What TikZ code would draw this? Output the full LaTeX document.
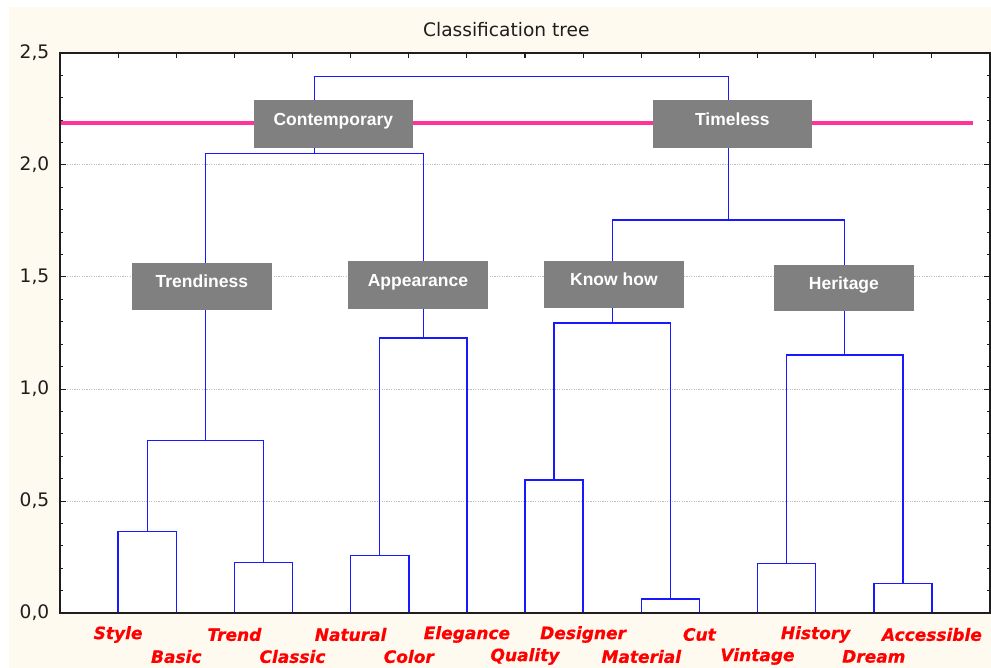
\documentclass[tikz,border=0pt]{standalone}
\usepackage{fontspec}
\setmainfont{DejaVu Sans}
\newfontfamily\labelfont{DejaVu Sans}
\newfontfamily\leaffont{DejaVu Sans}[BoldItalicFeatures={FakeBold=0.6}]
\newfontfamily\boxfont{Liberation Sans}
\usetikzlibrary{calc}

\definecolor{panelbg}{RGB}{255,250,240}
\definecolor{treeblue}{RGB}{25,25,255}
\definecolor{cutpink}{RGB}{255,51,153}
\definecolor{boxgray}{RGB}{128,128,128}
\definecolor{leafred}{RGB}{255,0,0}
\definecolor{gridgray}{RGB}{190,190,190}
\definecolor{axisink}{RGB}{30,30,30}

\tikzset{
  link/.style={draw=treeblue, line width=1.4pt, line cap=rect},
  cluster/.style={fill=boxgray, text=white, inner sep=0pt,
    font=\boxfont\bfseries\fontsize{17.5}{17.5}\selectfont,
    text height=12.6pt, text depth=10pt, minimum height=47.7pt},
  widebox/.style={cluster, minimum width=158.7pt},
  narrowbox/.style={cluster, minimum width=139.7pt},
  leaflabel/.style={text=leafred, inner sep=0pt,
    font=\leaffont\bfseries\itshape\fontsize{17}{17}\selectfont},
  ticklabel/.style={text=axisink, inner sep=0pt, anchor=east,
    font=\labelfont\fontsize{18.6}{18.6}\selectfont},
  gridline/.style={draw=gridgray, line width=1pt, dash pattern=on 1.2pt off 1.2pt},
}

\begin{document}
\begin{tikzpicture}[x=1pt, y=-1pt]
  \useasboundingbox (0,0) rectangle (991,668);

  % panel and plotting area
  \fill[panelbg] (9,7) rectangle (991,668);
  \fill[white] (60,53) rectangle (990,613);

  % horizontal grid
  \foreach \gy in {165,277,389,501}
    \draw[gridline] (60,\gy) -- (990,\gy);

  % cut level
  \draw[cutpink, line width=4.3pt] (60,123) -- (973,123);

  % leaves on the bottom axis
  \coordinate (style)    at (118.1,613);
  \coordinate (basic)    at (176.3,613);
  \coordinate (trend)    at (234.4,613);
  \coordinate (classic)  at (292.5,613);
  \coordinate (natural)  at (350.6,613);
  \coordinate (color)    at (408.8,613);
  \coordinate (elegance) at (466.9,613);
  \coordinate (quality)  at (525.0,613);
  \coordinate (designer) at (583.1,613);
  \coordinate (material) at (641.3,613);
  \coordinate (cut)      at (699.4,613);
  \coordinate (vintage)  at (757.5,613);
  \coordinate (history)  at (815.6,613);
  \coordinate (dream)    at (873.8,613);
  \coordinate (access)   at (931.9,613);

  % merge points
  \coordinate (mSB)   at (147.2,531.7);
  \coordinate (mTC)   at (263.4,562.7);
  \coordinate (mTrd)  at (205.3,440.7);
  \coordinate (mNC)   at (379.7,555.7);
  \coordinate (mApp)  at (423.3,338.0);
  \coordinate (mCon)  at (314.3,153.5);
  \coordinate (mQD)   at (554.1,480.0);
  \coordinate (mMC)   at (670.3,599.0);
  \coordinate (mKnow) at (612.2,323.0);
  \coordinate (mVH)   at (786.6,563.7);
  \coordinate (mDA)   at (902.8,583.7);
  \coordinate (mHer)  at (844.7,355.0);
  \coordinate (mTim)  at (728.4,220.0);
  \coordinate (mRoot) at (521.4,76.7);

  % dendrogram
  \draw[link] (style) |- (mSB) -| (basic);
  \draw[link] (trend) |- (mTC) -| (classic);
  \draw[link] (mSB) |- (mTrd) -| (mTC);
  \draw[link] (natural) |- (mNC) -| (color);
  \draw[link] (mNC) |- (mApp) -| (elegance);
  \draw[link] (mTrd) |- (mCon) -| (mApp);
  \draw[link] (quality) |- (mQD) -| (designer);
  \draw[link] (material) |- (mMC) -| (cut);
  \draw[link] (mQD) |- (mKnow) -| (mMC);
  \draw[link] (vintage) |- (mVH) -| (history);
  \draw[link] (dream) |- (mDA) -| (access);
  \draw[link] (mVH) |- (mHer) -| (mDA);
  \draw[link] (mKnow) |- (mTim) -| (mHer);
  \draw[link] (mCon) |- (mRoot) -| (mTim);

  % cluster names
  \node[widebox]   (contemporary) at (333.4,124.0) {Contemporary};
  \node[widebox]   (timeless)     at (732.4,124.0) {Timeless};
  \node[narrowbox] (trendiness)   at (201.9,286.5) {Trendiness};
  \node[narrowbox] (appearance)   at (417.9,284.9) {Appearance};
  \node[narrowbox] (knowhow)      at (613.9,284.4) {Know how};
  \node[narrowbox, minimum height=45.7pt] (heritage) at (843.9,287.9) {Heritage};

  % frame
  \draw[axisink, line width=1.6pt] (60,53) rectangle (990,613);

  % ticks on the left and right axes
  \foreach \k in {1,...,24} {
    \pgfmathsetmacro{\ty}{613-22.4*\k}
    \pgfmathsetmacro{\tl}{mod(\k,5)==0 ? 6 : 3}
    \draw[axisink, line width=1pt] (60,\ty) -- ++(\tl,0);
    \draw[axisink, line width=1pt] (990,\ty) -- ++(-\tl,0);
  }
  % ticks on the top axis
  \foreach \k in {1,...,15}
    \draw[axisink, line width=1.2pt] ({60+58.125*\k},53) -- ++(0,5);

  % axis values
  \node[ticklabel] (v00) at (49.5,613) {0,0};
  \node[ticklabel] (v05) at (49.5,501) {0,5};
  \node[ticklabel] (v10) at (49.5,389) {1,0};
  \node[ticklabel] (v15) at (49.5,277) {1,5};
  \node[ticklabel] (v20) at (49.5,165) {2,0};
  \node[ticklabel] (v25) at (49.5,53)  {2,5};

  % title
  \node[text=axisink, inner sep=0pt, font=\fontsize{18.6}{18.6}\selectfont]
    (title) at (506.3,30) {Classification tree};

  % leaf names
  \node[leaflabel] (lStyle)    at (118.1,634.5) {Style};
  \node[leaflabel] (lBasic)    at (176.3,656.5) {Basic};
  \node[leaflabel] (lTrend)    at (234.4,634.5) {Trend};
  \node[leaflabel] (lClassic)  at (292.5,656.5) {Classic};
  \node[leaflabel] (lNatural)  at (350.6,634.5) {Natural};
  \node[leaflabel] (lColor)    at (408.8,656.5) {Color};
  \node[leaflabel] (lElegance) at (466.9,634.5) {Elegance};
  \node[leaflabel] (lQuality)  at (525.0,656.5) {Quality};
  \node[leaflabel] (lDesigner) at (583.1,634.5) {Designer};
  \node[leaflabel] (lMaterial) at (641.3,656.5) {Material};
  \node[leaflabel] (lCut)      at (699.4,634.5) {Cut};
  \node[leaflabel] (lVintage)  at (757.5,656.5) {Vintage};
  \node[leaflabel] (lHistory)  at (815.6,634.5) {History};
  \node[leaflabel] (lDream)    at (873.8,656.5) {Dream};
  \node[leaflabel] (lAccess)   at (931.9,634.5) {Accessible};
\end{tikzpicture}
\end{document}
